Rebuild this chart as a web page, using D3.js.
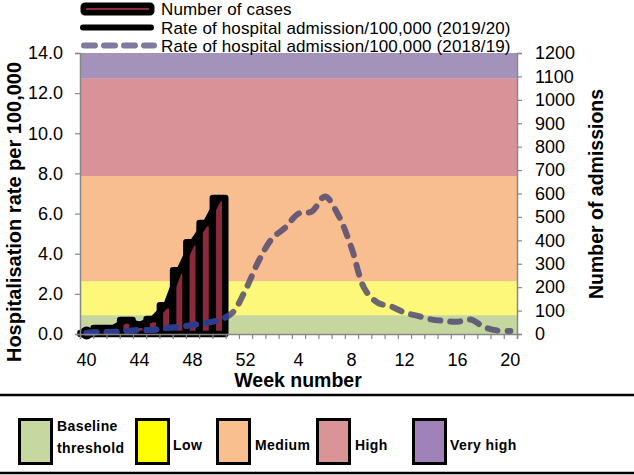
<!DOCTYPE html>
<html><head><meta charset="utf-8">
<script src="https://cdn.jsdelivr.net/npm/d3@7"></script>
<style>
html,body{margin:0;padding:0;background:#fff;}
svg text{font-family:"Liberation Sans",Arial,sans-serif;}
</style></head>
<body>
<svg id="c" width="634" height="475"></svg>
<script>
// ---------- data ----------
const weeks = [40,41,42,43,44,45,46,47,48,49,50,51,52,1,2,3,4,5,6,7,8,9,10,11,12,13,14,15,16,17,18,19,20];
const xTickLabels = [40,44,48,52,4,8,12,16,20];
const caseWeeks = [40,41,42,43,44,45,46,47,48,49,50];
const cases = [4,26,26,60,39,64,123,272,392,474,581];
const rate1920 = [0.05,0.3,0.3,0.7,0.46,0.75,1.43,3.17,4.57,5.53,6.78];
const rate1819 = [0.05,0.1,0.1,0.15,0.2,0.2,0.3,0.35,0.45,0.55,0.7,1.05,2.2,3.65,4.75,5.3,6.0,6.1,6.85,5.93,4.3,2.24,1.55,1.37,1.07,0.9,0.73,0.65,0.61,0.72,0.35,0.17,0.15];
const leftTicks = [0,2,4,6,8,10,12,14];
const rightTicks = [0,100,200,300,400,500,600,700,800,900,1000,1100,1200];
const bandNames = ["Baseline threshold","Low","Medium","High","Very high"];
const bandLimits = [0,0.94,2.63,7.87,12.75,14];
const bandColors = ["#c5d79e","#fdf77a","#f9be8f","#d99398","#a393bb"];
const legendColors = ["#c6d89f","#ffff00","#f9bf8f","#d99496","#9e82b8"];
const seriesNames = ["Number of cases","Rate of hospital admission/100,000 (2019/20)","Rate of hospital admission/100,000 (2018/19)"];

// ---------- layout ----------
const svg = d3.select("#c");
const L = 80, R = 517, T = 53, B = 334;
const x = d3.scaleBand().domain(weeks).range([L,R]).padding(0);
const yL = d3.scaleLinear().domain([0,14]).range([B,T]);
const yR = d3.scaleLinear().domain([0,1200]).range([B,T]);
const cx = w => x(w) + x.bandwidth()/2;
const axisGray = "#878787";

// bands
svg.append("g").selectAll("rect").data(bandColors).join("rect")
  .attr("x", L).attr("width", R-L)
  .attr("y", (d,i)=>yL(bandLimits[i+1]))
  .attr("height", (d,i)=>yL(bandLimits[i]) - yL(bandLimits[i+1]))
  .attr("fill", d=>d);

// bars
const bw = x.bandwidth()*0.94;
svg.append("g").selectAll("rect").data(cases).join("rect")
  .attr("x", (d,i)=>cx(caseWeeks[i]) - bw/2)
  .attr("width", bw)
  .attr("y", d=>yR(d))
  .attr("height", d=>B - yR(d))
  .attr("fill", "#8b2a3d")
  .attr("stroke", "#000").attr("stroke-width", 6.5)
  .attr("stroke-linejoin","round");

// black line 2019/20
const line1 = d3.line().x((d,i)=>cx(caseWeeks[i])).y(d=>yL(d));
svg.append("path").attr("d", line1(rate1920))
  .attr("fill","none").attr("stroke","#000").attr("stroke-width",6)
  .attr("stroke-linejoin","round").attr("stroke-linecap","round");
svg.append("circle").attr("cx", cx(caseWeeks[0])).attr("cy", yL(rate1920[0])).attr("r", 6.5).attr("fill","#000");

// dashed line 2018/19
const line2 = d3.line().x((d,i)=>cx(weeks[i])).y(d=>yL(d)).curve(d3.curveCatmullRom.alpha(0.5));
svg.append("defs").append("clipPath").attr("id","barclip")
  .append("rect").attr("x", L).attr("y", T).attr("width", cx(caseWeeks[caseWeeks.length-1]) + x.bandwidth()/2 + 3 - L).attr("height", B-T+10);
svg.append("path").attr("d", line2(rate1819))
  .attr("fill","none").attr("stroke","rgb(72,66,110)").attr("stroke-opacity",0.8)
  .attr("stroke-width",6).attr("stroke-linecap","round")
  .attr("stroke-dasharray","10,10");
svg.append("path").attr("d", line2(rate1819)).attr("clip-path","url(#barclip)")
  .attr("fill","none").attr("stroke","#2b3c8e")
  .attr("stroke-width",6).attr("stroke-linecap","round")
  .attr("stroke-dasharray","10,10");

// axes
const gL = svg.append("g").attr("transform",`translate(${L},0)`)
  .call(d3.axisLeft(yL).tickValues(leftTicks).tickFormat(d3.format(".1f")).tickSize(5).tickPadding(12));
const gR = svg.append("g").attr("transform",`translate(${R},0)`)
  .call(d3.axisRight(yR).tickValues(rightTicks).tickFormat(d3.format("d")).tickSize(5).tickPadding(13));
const xLin = d3.scaleLinear().domain([0,weeks.length]).range([L,R]);
const gB = svg.append("g").attr("transform",`translate(0,${B})`)
  .call(d3.axisBottom(xLin).tickValues(d3.range(weeks.length+1)).tickFormat("").tickSize(5));
const gBL = svg.append("g").attr("transform",`translate(0,${B})`)
  .call(d3.axisBottom(x).tickValues(xTickLabels).tickSize(0).tickPadding(19));
gBL.select(".domain").remove();
[gL,gR,gB].forEach(g=>{
  g.select(".domain").attr("stroke",axisGray).attr("stroke-width",1.5);
  g.selectAll(".tick line").attr("stroke",axisGray).attr("stroke-width",1.2);
});
[gL,gR,gBL].forEach(g=>g.selectAll(".tick text").attr("font-size",18).attr("fill","#000").style("font-family","'Liberation Sans',Arial,sans-serif"));

// axis titles
svg.append("text").attr("transform","translate(21,212) rotate(-90)").attr("text-anchor","middle")
  .attr("font-size",20).attr("font-weight","bold").text("Hospitalisation rate per 100,000");
svg.append("text").attr("transform","translate(603,194) rotate(-90)").attr("text-anchor","middle")
  .attr("font-size",19.5).attr("font-weight","bold").text("Number of admissions");
svg.append("text").attr("x",298).attr("y",387).attr("text-anchor","middle")
  .attr("font-size",19.5).attr("font-weight","bold").text("Week number");

// top legend
const lg = svg.append("g");
lg.append("rect").attr("x",82).attr("y",4).attr("width",71).attr("height",10).attr("rx",3)
  .attr("fill","#000").attr("stroke","#000").attr("stroke-width",3);
lg.append("line").attr("x1",86).attr("x2",149).attr("y1",9).attr("y2",9).attr("stroke","#8b2a3d").attr("stroke-width",2);
lg.append("line").attr("x1",83).attr("x2",151).attr("y1",27.5).attr("y2",27.5).attr("stroke","#000").attr("stroke-width",6).attr("stroke-linecap","round");
lg.append("line").attr("x1",84).attr("x2",154).attr("y1",45.5).attr("y2",45.5).attr("stroke","#7f7a9e").attr("stroke-width",6)
  .attr("stroke-linecap","round").attr("stroke-dasharray","11,9");
lg.selectAll("text").data(seriesNames).join("text")
  .attr("x",161).attr("y",(d,i)=>15.3 + i*18.3).attr("font-size",17).attr("letter-spacing",0.15).attr("fill","#000").text(d=>d);

// bottom legend
svg.append("line").attr("x1",0).attr("x2",634).attr("y1",395).attr("y2",395).attr("stroke","#000").attr("stroke-width",2.5);
svg.append("line").attr("x1",0).attr("x2",634).attr("y1",473).attr("y2",473).attr("stroke","#000").attr("stroke-width",2.5);
const boxX = [18,135,216,316,412];
const textX = [57,173,255,355,450];
const bl = svg.append("g");
bl.selectAll("rect").data(legendColors).join("rect")
  .attr("x",(d,i)=>boxX[i]+1.5).attr("y",419.5).attr("width",32).attr("height",44)
  .attr("fill",d=>d).attr("stroke","#000").attr("stroke-width",3);
bandNames.forEach((n,i)=>{
  const t = bl.append("text").attr("font-size",14).attr("font-weight","bold").attr("letter-spacing",0.4).attr("fill","#000");
  if(i===0){
    t.append("tspan").attr("x",textX[i]).attr("y",430.5).text("Baseline");
    t.append("tspan").attr("x",textX[i]).attr("y",452.5).text("threshold");
  } else {
    t.attr("x",textX[i]).attr("y",450).text(n);
  }
});
</script>
</body></html>
